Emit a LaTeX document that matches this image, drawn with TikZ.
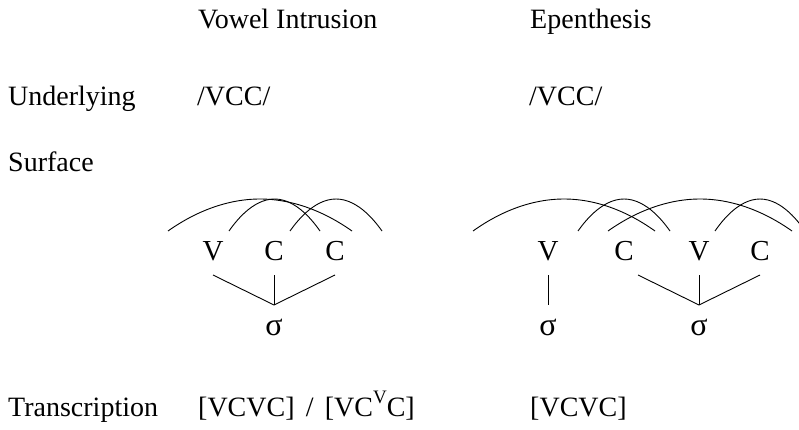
\documentclass[tikz,border=0pt]{standalone}
\usepackage{fontspec}
\setmainfont{Liberation Serif}
\newcommand{\bigtxt}{\fontsize{28}{33}\selectfont}
\newcommand{\segtxt}{\fontsize{29}{34}\selectfont}
\newcommand{\sigtxt}{\fontsize{32}{36}\selectfont}
\tikzset{
  lbl/.style={anchor=base west, inner sep=0pt, font=\bigtxt},
  seg/.style={anchor=base, inner sep=0pt, text height=18pt, text depth=0pt, outer ysep=15pt, font=\segtxt},
  syl/.style={anchor=base, inner sep=0pt, text height=18pt, text depth=0pt, outer ysep=12pt, font=\sigtxt},
  assoc/.style={line width=0.9pt},
  gest/.style={line width=0.9pt},
}
\begin{document}
\begin{tikzpicture}[x=1pt,y=-1pt]
\clip (0,0) rectangle (799,430);
% row labels and headings
\node[lbl] (h1) at (198,29) {Vowel Intrusion};
\node[lbl] (h2) at (530,29) {Epenthesis};
\node[lbl] (r1) at (8,106) {Underlying};
\node[lbl] (u1) at (197,106) {/VCC/};
\node[lbl] (u2) at (529,106) {/VCC/};
\node[lbl] (r2) at (8,172) {Surface};
\node[lbl] (r3) at (8,416) {Transcription};
\node[lbl] (t1) at (198,416) {[VCVC]\hspace{0.4em}/\hspace{0.4em}[VC\raisebox{13pt}{\fontsize{19}{21}\selectfont V}C]};
\node[lbl] (t2) at (530,416) {[VCVC]};
% vowel intrusion
\node[seg] (a1) at (213,260) {V};
\node[seg] (a2) at (274,260) {C};
\node[seg] (a3) at (335,260) {C};
\node[syl] (s1) at (274,335) {σ};
\draw[assoc] (a1.south) -- (s1.north);
\draw[assoc] (a2.south) -- (s1.north);
\draw[assoc] (a3.south) -- (s1.north);
\draw[gest] (168,231) parabola bend (260,199) (352,231);
\draw[gest] (229,231) parabola bend (274.5,199) (320,231);
\draw[gest] (290,231) parabola bend (336,199) (382,231);
% epenthesis
\node[seg] (b1) at (548,260) {V};
\node[seg] (b2) at (624,260) {C};
\node[seg] (b3) at (699,260) {V};
\node[seg] (b4) at (760,260) {C};
\node[syl] (s2) at (548,335) {σ};
\node[syl] (s3) at (699,335) {σ};
\coordinate (b2r) at (638,275);
\draw[assoc] (b1.south) -- (s2.north);
\draw[assoc] (b2r) -- (s3.north);
\draw[assoc] (b3.south) -- (s3.north);
\draw[assoc] (b4.south) -- (s3.north);
\draw[gest] (473,231) parabola bend (564,199) (655,231);
\draw[gest] (578,231) parabola bend (624,199) (670,231);
\draw[gest] (608,231) parabola bend (700,199) (792,231);
\draw[gest] (715,231) parabola bend (760,199) (805,231);
\end{tikzpicture}
\end{document}
